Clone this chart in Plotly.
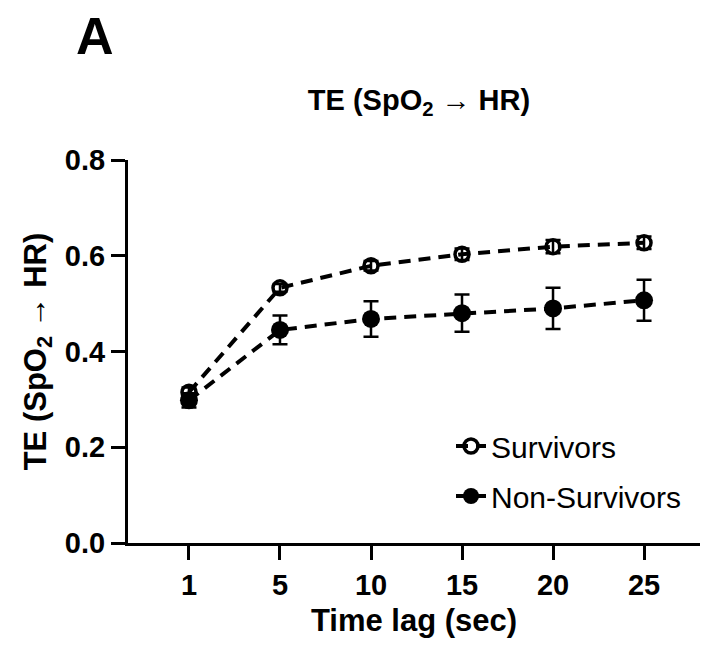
import plotly.graph_objects as go

time_lags = ["1", "5", "10", "15", "20", "25"]
surv_mean = [0.315, 0.533, 0.579, 0.603, 0.619, 0.627]
surv_err = [0.010, 0.008, 0.010, 0.012, 0.014, 0.013]
nonsurv_mean = [0.298, 0.445, 0.468, 0.480, 0.490, 0.507]
nonsurv_err = [0.015, 0.030, 0.037, 0.039, 0.043, 0.043]

FONT = "Liberation Sans, Arial, sans-serif"
W, H = 703, 647
ML, MR, MT, MB = 128, 3, 160, 104

fig = go.Figure()
fig.add_trace(go.Scatter(
    x=time_lags, y=surv_mean, name="Survivors", mode="lines+markers",
    legendgroup="s",
    line=dict(color="black", width=4, dash="12px,8px"),
    marker=dict(symbol="circle-open", size=14, color="black", line=dict(width=3.5, color="black")),
    error_y=dict(type="data", array=surv_err, color="black", thickness=2.5, width=7.5),
))
fig.add_trace(go.Scatter(
    x=time_lags, y=nonsurv_mean, name="Non-Survivors", mode="lines+markers",
    legendgroup="ns",
    line=dict(color="black", width=4, dash="12px,8px"),
    marker=dict(symbol="circle", size=18, color="black"),
    error_y=dict(type="data", array=nonsurv_err, color="black", thickness=2.5, width=7.5),
))

pw = W - ML - MR
ph = H - MT - MB

fig.update_layout(
    width=W, height=H,
    margin=dict(l=ML, r=MR, t=MT, b=MB),
    plot_bgcolor="white", paper_bgcolor="white",
    font=dict(family=FONT, color="black"),
    showlegend=True,
    legend=dict(x=(451 - ML) / pw, y=(H - MB - 420) / ph, xanchor="left", yanchor="top",
                font=dict(size=30, family=FONT, color="black"),
                traceorder="grouped", bgcolor="rgba(0,0,0,0)",
                tracegroupgap=8),
    title=dict(text="<b>TE (SpO<sub>2</sub> → HR)</b>", x=(419) / W, xanchor="center",
               y=1 - 100 / H, yanchor="middle", font=dict(size=29, family=FONT)),
    annotations=[dict(text="<b>A</b>", x=(95 - ML) / pw, y=(H - MB - 36) / ph,
                      xref="paper", yref="paper", xanchor="center", yanchor="middle",
                      showarrow=False, font=dict(size=52, family=FONT))],
)

fig.update_xaxes(
    type="category", range=[-0.670, 5.615],
    showline=True, linecolor="black", linewidth=3,
    ticks="outside", ticklen=14, tickwidth=3, tickcolor="black",
    showgrid=False, zeroline=False,
    tickfont=dict(size=29, family=FONT, color="black"),
    tickprefix="<b>", ticksuffix="</b>",
    title=dict(text="<b>Time lag (sec)</b>", font=dict(size=31, family=FONT), standoff=10),
)
fig.update_yaxes(
    range=[0, 0.8], tickvals=[0, 0.2, 0.4, 0.6, 0.8],
    ticktext=["<b>0.0</b>", "<b>0.2</b>", "<b>0.4</b>", "<b>0.6</b>", "<b>0.8</b>"],
    showline=True, linecolor="black", linewidth=3,
    ticks="outside", ticklen=14, tickwidth=3, tickcolor="black",
    showgrid=False, zeroline=False,
    tickfont=dict(size=29, family=FONT, color="black"),
    title=dict(text="<b>TE (SpO<sub>2</sub> → HR)</b>", font=dict(size=31, family=FONT), standoff=10),
)

fig.write_html("out.html")
